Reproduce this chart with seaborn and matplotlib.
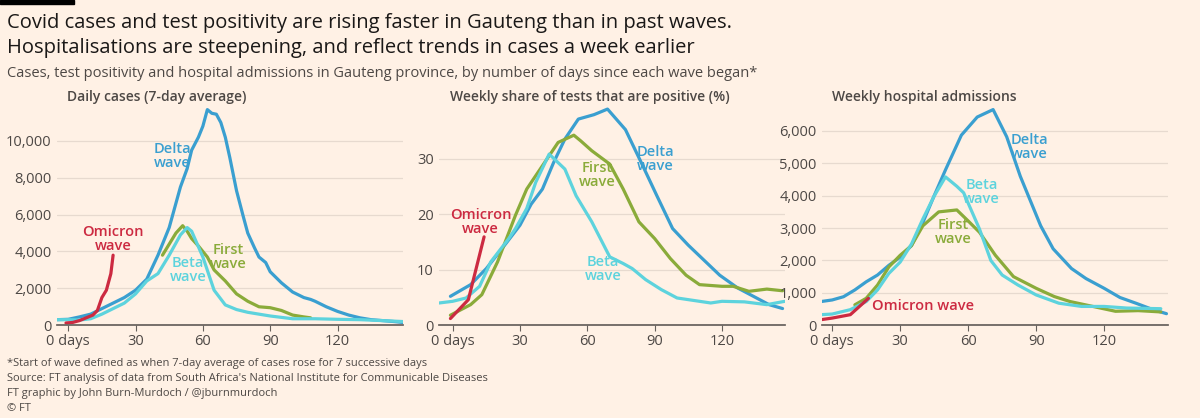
import matplotlib.pyplot as plt
import matplotlib.ticker as mticker
import pandas as pd
import seaborn as sns

# ---- data ----
cases_delta_x = [-5, 0, 5, 10, 15, 20, 25, 30, 35, 40, 45, 50, 53, 55, 58, 60, 62, 64, 66, 68, 70, 72, 75, 78, 80, 83, 85, 88, 90, 95, 100, 105, 108, 110, 115, 120, 125, 130, 135, 140, 145, 149]
cases_delta_y = [300, 320, 450, 600, 900, 1200, 1500, 1900, 2500, 3800, 5300, 7500, 8500, 9500, 10200, 10800, 11700, 11500, 11450, 11000, 10200, 9100, 7300, 5900, 5000, 4200, 3700, 3400, 2900, 2300, 1800, 1500, 1400, 1300, 1000, 750, 550, 400, 300, 250, 200, 150]
cases_first_x = [42, 45, 48, 51, 53, 55, 58, 62, 65, 70, 75, 80, 85, 90, 95, 100, 105, 108]
cases_first_y = [3800, 4400, 5000, 5400, 5100, 4700, 4300, 3700, 3000, 2400, 1700, 1300, 1000, 950, 800, 550, 450, 400]
cases_beta_x = [-5, 0, 5, 10, 15, 20, 25, 30, 35, 40, 45, 50, 53, 55, 60, 65, 70, 75, 80, 90, 100, 110, 120, 130, 140, 149]
cases_beta_y = [300, 300, 280, 350, 600, 900, 1200, 1700, 2400, 2800, 3800, 4900, 5300, 5100, 3700, 1900, 1100, 850, 700, 500, 350, 350, 320, 300, 250, 200]
cases_omicron_x = [-1, 2, 5, 8, 11, 13, 15, 17, 19, 20]
cases_omicron_y = [120, 150, 250, 400, 550, 800, 1500, 1900, 2800, 3800]

pos_delta_x = [-1, 8, 15, 22, 30, 35, 40, 45, 50, 56, 63, 69, 77, 84, 91, 98, 105, 112, 119, 127, 134, 141, 147]
pos_delta_y = [5.2, 7.3, 10.2, 13.8, 18, 21.8, 24.5, 29.3, 33.5, 37.1, 37.9, 38.9, 35.2, 29.3, 23.3, 17.4, 14.4, 11.7, 9, 6.7, 5.2, 3.7, 3]
pos_first_x = [-1, 8, 13, 20, 28, 33, 40, 47, 54, 57, 62, 70, 76, 83, 90, 97, 104, 110, 120, 125, 132, 140, 147]
pos_first_y = [1.8, 3.7, 5.5, 11.4, 19.8, 24.5, 28.7, 32.9, 34.2, 33.2, 31.4, 29, 24.5, 18.6, 15.6, 12, 9, 7.3, 7, 7, 6.1, 6.5, 6.2]
pos_beta_x = [-6, 0, 6, 12, 17, 25, 28, 33, 37, 43, 50, 55, 62, 70, 76, 80, 86, 93, 100, 110, 115, 120, 130, 140, 148]
pos_beta_y = [4, 4.3, 4.9, 7, 11.4, 15.6, 17.4, 21, 25.7, 30.8, 28.1, 23.3, 18.6, 12.3, 11.1, 10.2, 8.2, 6.4, 4.9, 4.3, 4, 4.3, 4.2, 3.7, 4.3]
pos_omicron_x = [-1, 7, 14]
pos_omicron_y = [1.2, 4.6, 15.9]

hosp_delta_x = [-5, 0, 5, 10, 15, 20, 25, 30, 35, 40, 45, 50, 57, 64, 71, 77, 83, 92, 97.5, 105.6, 112, 120, 127, 134, 141.6, 147.5]
hosp_delta_y = [730, 780, 880, 1090, 1340, 1550, 1850, 2100, 2460, 3170, 4000, 4800, 5870, 6430, 6660, 5820, 4600, 3070, 2360, 1750, 1440, 1140, 855, 680, 480, 356]
hosp_first_x = [10, 15, 20, 25, 30, 35, 40, 47, 55, 60, 65, 72, 80, 90, 98, 105, 115, 125, 135, 145]
hosp_first_y = [630, 830, 1240, 1800, 2160, 2460, 3070, 3500, 3560, 3220, 2870, 2160, 1500, 1140, 885, 730, 580, 430, 450, 410]
hosp_beta_x = [-5, 0, 8, 15, 20, 25, 30, 35, 40, 45, 50, 55, 58, 65, 70, 75, 82, 90, 100, 110, 120, 130, 145]
hosp_beta_y = [325, 345, 480, 730, 1090, 1600, 1950, 2510, 3280, 3990, 4580, 4290, 4090, 2970, 2000, 1550, 1240, 935, 680, 580, 580, 530, 510]
hosp_omicron_x = [-5, 0, 8, 16]
hosp_omicron_y = [170, 220, 325, 830]

colors = {"Delta": "#3a9fd0", "First": "#8aab3a", "Beta": "#5dd3dd", "Omicron": "#cc2a41"}
BG = "#fff1e5"

sns.set_theme(style="white")
plt.rcParams["font.family"] = ["Open Sans", "DejaVu Sans"]


def frame(xs, ys, wave):
    return pd.DataFrame({"day": xs, "value": ys, "wave": wave})


panels = [
    dict(title="Daily cases (7-day average)",
         df=pd.concat([frame(cases_delta_x, cases_delta_y, "Delta"), frame(cases_first_x, cases_first_y, "First"),
                       frame(cases_beta_x, cases_beta_y, "Beta"), frame(cases_omicron_x, cases_omicron_y, "Omicron")]),
         ylim=12000, yticks=[0, 2000, 4000, 6000, 8000, 10000], xlim=(-5, 149), left=0.0475,
         labels=[("Delta\nwave", 46.5, 9200, "Delta"), ("First\nwave", 71.5, 3700, "First"),
                 ("Beta\nwave", 53.5, 3000, "Beta"), ("Omicron\nwave", 20, 4700, "Omicron")]),
    dict(title="Weekly share of tests that are positive (%)",
         df=pd.concat([frame(pos_delta_x, pos_delta_y, "Delta"), frame(pos_first_x, pos_first_y, "First"),
                       frame(pos_beta_x, pos_beta_y, "Beta"), frame(pos_omicron_x, pos_omicron_y, "Omicron")]),
         ylim=39.8, yticks=[0, 10, 20, 30], xlim=(-6, 148), left=0.366,
         labels=[("Delta\nwave", 90.5, 29.9, "Delta"), ("First\nwave", 64.5, 27, "First"),
                 ("Beta\nwave", 67, 10.2, "Beta"), ("Omicron\nwave", 12.4, 18.6, "Omicron")]),
    dict(title="Weekly hospital admissions",
         df=pd.concat([frame(hosp_delta_x, hosp_delta_y, "Delta"), frame(hosp_first_x, hosp_first_y, "First"),
                       frame(hosp_beta_x, hosp_beta_y, "Beta"), frame(hosp_omicron_x, hosp_omicron_y, "Omicron")]),
         ylim=6830, yticks=[0, 1000, 2000, 3000, 4000, 5000, 6000], xlim=(-4.5, 148), left=0.685,
         labels=[("Delta\nwave", 87, 5510, "Delta"), ("Beta\nwave", 66, 4120, "Beta"),
                 ("First\nwave", 53.4, 2870, "First"), ("Omicron wave", 17.4, 580, "Omicron")]),
]

fig = plt.figure(figsize=(12, 4.18), dpi=100, facecolor=BG)
fig.add_artist(plt.Rectangle((0.0, 0.99), 0.062, 0.01, transform=fig.transFigure, color="black"))
fig.text(0.006, 0.945, "Covid cases and test positivity are rising faster in Gauteng than in past waves.",
         fontsize=14.5, va="center", color="#1a1817")
fig.text(0.006, 0.885, "Hospitalisations are steepening, and reflect trends in cases a week earlier",
         fontsize=14.5, va="center", color="#1a1817")
fig.text(0.006, 0.823, "Cases, test positivity and hospital admissions in Gauteng province, by number of days since each wave began*",
         fontsize=10.5, va="center", color="#4d4845")

for p in panels:
    ax = fig.add_axes([p["left"], 0.222, 0.288, 0.529], facecolor=BG)
    sns.lineplot(data=p["df"], x="day", y="value", hue="wave", palette=colors, linewidth=2.3,
                 sort=False, legend=False, ax=ax, estimator=None)
    ax.set_xlim(*p["xlim"])
    ax.set_ylim(0, p["ylim"])
    ax.set_yticks(p["yticks"])
    ax.set_xticks([0, 30, 60, 90, 120])
    ax.set_xticklabels(["0 days", "30", "60", "90", "120"])
    ax.yaxis.set_major_formatter(mticker.FuncFormatter(lambda v, _: f"{int(v):,}"))
    ax.grid(axis="y", color="#e7dacf", linewidth=0.9)
    for s in ["top", "right", "left"]:
        ax.spines[s].set_visible(False)
    ax.spines["bottom"].set_color("#66605c")
    ax.tick_params(axis="x", colors="#66605c", labelsize=10.5, length=4, width=0.8, direction="out", bottom=True, pad=2)
    ax.tick_params(axis="y", colors="#66605c", labelsize=10.5, length=0, pad=4)
    for lab in ax.get_xticklabels() + ax.get_yticklabels():
        lab.set_color("#4d4845")
    ax.set_xlabel("")
    ax.set_ylabel("")
    ax.text(0.03, 1.0, p["title"], transform=ax.transAxes, fontsize=10, fontweight="semibold",
            color="#4d4845", va="bottom")
    for txt, x, y, wave in p["labels"]:
        ax.text(x, y, txt, color=colors[wave], fontsize=10.5, fontweight="semibold",
                ha="center" if "\n" in txt else "left", va="center", linespacing=1.0)

foot = ["*Start of wave defined as when 7-day average of cases rose for 7 successive days",
        "Source: FT analysis of data from South Africa's National Institute for Communicable Diseases",
        "FT graphic by John Burn-Murdoch / @jburnmurdoch",
        "© FT"]
for i, line in enumerate(foot):
    fig.text(0.006, 0.13 - i * 0.036, line, fontsize=8, color="#4d4845", va="center")

fig.savefig("out.png", dpi=100, facecolor=BG)
